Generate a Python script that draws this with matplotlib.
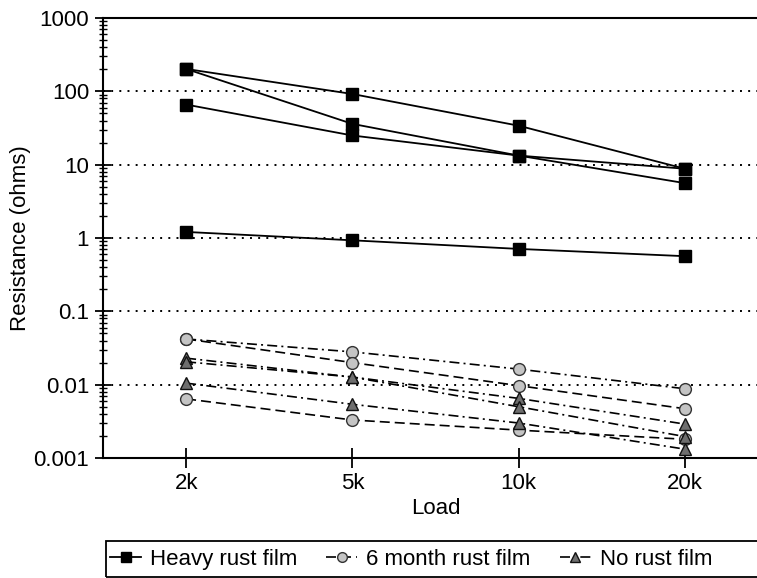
# Resistance vs load for three rust conditions

# Importing the libraries
import numpy as np
import matplotlib
matplotlib.use('Agg')
import matplotlib.pyplot as plt
from matplotlib.lines import Line2D
from matplotlib.patches import Rectangle
from matplotlib.ticker import LogLocator, NullFormatter, FixedLocator, FixedFormatter

plt.rcParams['font.family'] = ['Liberation Sans', 'DejaVu Sans']

# Data
loads = ['2k', '5k', '10k', '20k']
heavy_1 = [202, 92, 34, 8.8]
heavy_2 = [202, 36, 13.3, 5.6]
heavy_3 = [66, 25, 13.3, 8.8]
heavy_4 = [1.21, 0.93, 0.71, 0.565]
month_1 = [0.042, 0.028, 0.0163, 0.0088]
month_2 = [0.042, 0.020, 0.0097, 0.0047]
month_3 = [0.0064, 0.0033, 0.0024, 0.0018]
norust_1 = [0.023, 0.0127, 0.0065, 0.0029]
norust_2 = [0.0205, 0.0127, 0.0050, 0.00196]
norust_3 = [0.0105, 0.0054, 0.0030, 0.00132]
y_ticks = [0.001, 0.01, 0.1, 1, 10, 100, 1000]
y_labels = ['0.001', '0.01', '0.1', '1', '10', '100', '1000']
legend_labels = ['Heavy rust film', '6 month rust film', 'No rust film']

x = np.arange(len(loads))
fs = 16

# line styles
dashed = (0, (6, 3))
dashdot = (0, (6, 2.5, 1.2, 2.5))
sq = dict(marker='s', markersize=9, markerfacecolor='black', markeredgecolor='black')
circ = dict(marker='o', markersize=8.5, markerfacecolor='#c4c4c4', markeredgecolor='#333333', markeredgewidth=1.0)
tri = dict(marker='^', markersize=8.5, markerfacecolor='#6e6e6e', markeredgecolor='#111111', markeredgewidth=1.0)

fig = plt.figure(figsize=(7.57, 5.78), dpi=100)
# axes run past the right edge of the picture, like in the scan
ax = fig.add_axes([103/757, (578-458)/578, 665/757, 440/578])

# Heavy rust film
for s in [heavy_1, heavy_2, heavy_3, heavy_4]:
    ax.plot(x, s, color='black', lw=1.3, linestyle='-', zorder=4, **sq)

# 6 month rust film
ax.plot(x, month_1, color='black', lw=1.2, linestyle=dashdot, zorder=4, **circ)
ax.plot(x, month_2, color='black', lw=1.2, linestyle=dashed, zorder=4, **circ)
ax.plot(x, month_3, color='black', lw=1.2, linestyle=dashed, zorder=4, **circ)

# No rust film
ax.plot(x, norust_1, color='black', lw=1.2, linestyle=dashdot, zorder=4, **tri)
ax.plot(x, norust_2, color='black', lw=1.2, linestyle=dashdot, zorder=4, **tri)
ax.plot(x, norust_3, color='black', lw=1.2, linestyle=dashdot, zorder=4, **tri)

ax.set_yscale('log')
ax.set_ylim(0.001, 1000)
ax.set_xlim(-0.5, 3.5)

# horizontal dotted grid at inner decades
for v in y_ticks[1:-1]:
    ax.axhline(v, color='black', lw=1.4, linestyle=(0, (1, 3.2)), zorder=2)

ax.yaxis.set_major_locator(FixedLocator(y_ticks))
ax.yaxis.set_major_formatter(FixedFormatter(y_labels))
ax.yaxis.set_minor_locator(LogLocator(base=10, subs=np.arange(2, 10)))
ax.yaxis.set_minor_formatter(NullFormatter())
ax.set_xticks(x)
ax.set_xticklabels(loads)

ax.tick_params(axis='y', which='major', direction='inout', length=12, width=1.3, labelsize=fs, pad=4)
ax.tick_params(axis='y', which='minor', direction='inout', length=6, width=1.0)
ax.tick_params(axis='x', which='major', direction='inout', length=15, width=1.3, labelsize=fs, pad=3)
ax.tick_params(axis='x', which='minor', bottom=False)

for side in ['left', 'top', 'bottom']:
    ax.spines[side].set_linewidth(1.5)
ax.spines['right'].set_visible(False)

ax.set_xlabel('Load', fontsize=fs, labelpad=3)
ax.set_ylabel('Resistance (ohms)', fontsize=fs, labelpad=2)

# Legend below the plot
handles = [Line2D([], [], color='black', lw=1.3, linestyle='-', marker='s', markersize=7,
                  markerfacecolor='black', markeredgecolor='black'),
           Line2D([], [], color='black', lw=1.2, linestyle=dashed, marker='o', markersize=7,
                  markerfacecolor='#c4c4c4', markeredgecolor='#333333'),
           Line2D([], [], color='black', lw=1.2, linestyle=dashdot, marker='^', markersize=7,
                  markerfacecolor='#6e6e6e', markeredgecolor='#111111')]
leg = fig.legend(handles, legend_labels, loc='upper left', bbox_to_anchor=(110/757, 1 - 549/578),
                 ncol=3, frameon=False, fontsize=fs, handlelength=1.4, handletextpad=0.4,
                 columnspacing=1.3, borderaxespad=0, borderpad=0)
fig.patches.append(Rectangle((106/757, 1 - 577/578), 0.9, 36/578, transform=fig.transFigure,
                             fill=False, edgecolor='black', lw=1.3))

plt.savefig('out.png', dpi=100)
